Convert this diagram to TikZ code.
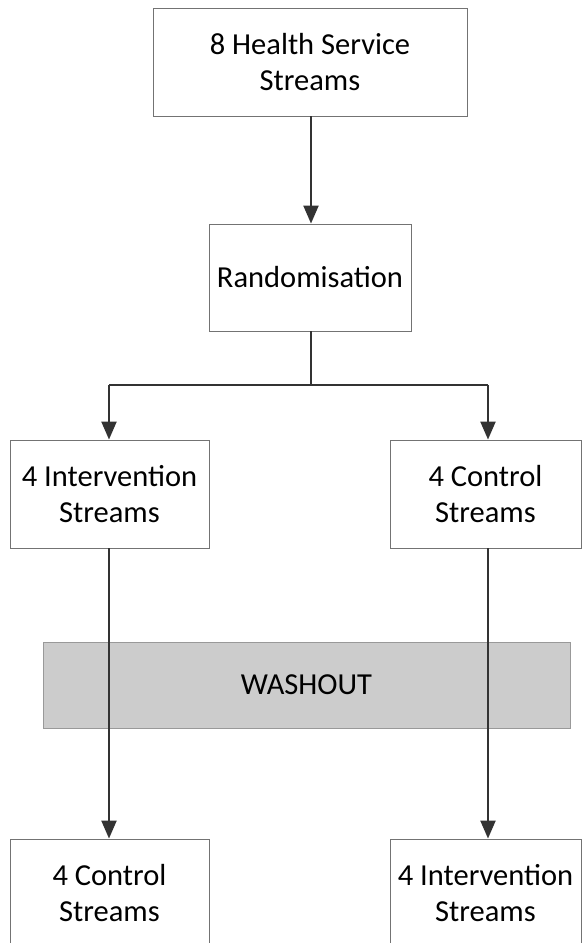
\documentclass[tikz,border=0pt]{standalone}
\usepackage{fontspec}
\setmainfont{Carlito}
\usetikzlibrary{arrows.meta, calc, positioning}

\begin{document}
\begin{tikzpicture}[x=1pt, y=1pt]
		\tikzstyle{stream} = [draw=gray!90!black, line width=0.9pt, fill=white, align=center,
			inner sep=0pt, font=\fontsize{30.5}{36}\selectfont, text=black, minimum height=108]
		\tikzstyle{flow} = [draw=black!80, line width=2.2pt, -{Triangle[length=18, width=15]}]

		\useasboundingbox (0,0) rectangle (583,-943);
		\clip (0,0) rectangle (583,-943);

		\node[stream, minimum width=314] (health) at (310,-62) {8 Health Service\\Streams};
		\node[stream, minimum width=202, minimum height=107] (random) at (310,-277.5) {Randomisation};

		\coordinate (split) at (311,-385);
		\coordinate (splitL) at (109,-385);
		\coordinate (splitR) at (488,-385);

		\node[stream, minimum width=199] (interv1) at (109.5,-494) {4 Intervention\\Streams};
		\node[stream, minimum width=191] (ctrl1) at (485.5,-494) {4 Control\\Streams};

		\node[stream, minimum width=527, minimum height=86, fill=gray!40, draw=gray!80]
			(washout) at (306.5,-685) {\phantom{X}};

		\node[stream, minimum width=199] (ctrl2) at (109.5,-893) {4 Control\\Streams};
		\node[stream, minimum width=191] (interv2) at (485.5,-893) {4 Intervention\\Streams};

		\draw[flow] (health.south -| split) -- (random.north -| split);
		\draw[draw=black!80, line width=2.2pt] (random.south -| split) -- (split);
		\draw[draw=black!80, line width=2.2pt] (splitL) -- (splitR);
		\draw[flow] (splitL) -- (interv1.north -| splitL);
		\draw[flow] (splitR) -- (ctrl1.north -| splitR);
		\draw[flow] (interv1.south -| splitL) -- (ctrl2.north -| splitL);
		\draw[flow] (ctrl1.south -| splitR) -- (interv2.north -| splitR);

		\node[font=\fontsize{30.5}{36}\selectfont] at (washout.center) {WASHOUT};
	\end{tikzpicture}
\end{document}
